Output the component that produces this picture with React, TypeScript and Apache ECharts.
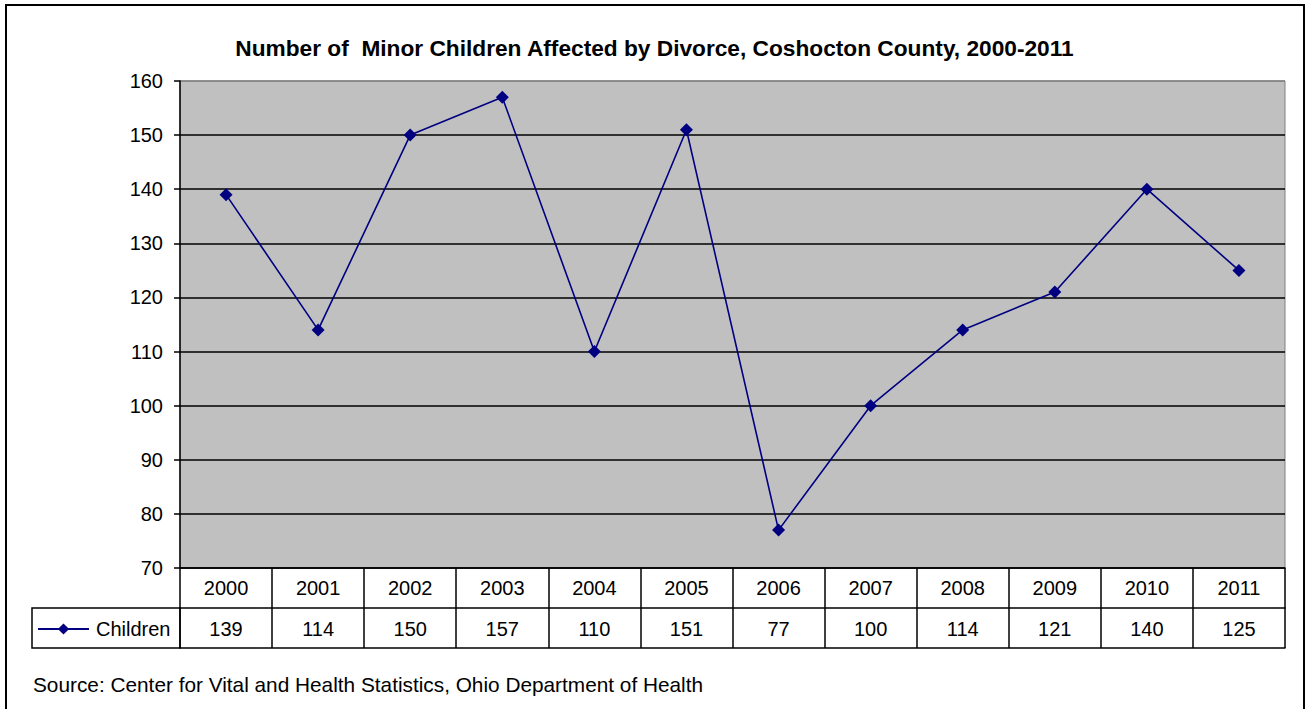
import React, { useEffect, useRef } from "react";
import * as echarts from "echarts";

const years = ["2000", "2001", "2002", "2003", "2004", "2005", "2006", "2007", "2008", "2009", "2010", "2011"];
const children = [139, 114, 150, 157, 110, 151, 77, 100, 114, 121, 140, 125];
const seriesName = "Children";
const titleText = "Number of  Minor Children Affected by Divorce, Coshocton County, 2000-2011";
const sourceText = "Source: Center for Vital and Health Statistics, Ohio Department of Health";

const FONT = "'Liberation Sans', Arial, sans-serif";

export default function App() {
  const ref = useRef<HTMLDivElement>(null);
  useEffect(() => {
    document.body.style.margin = "0";
    const chart = echarts.init(ref.current!, undefined, { renderer: "svg" });
    const gridLeft = 180;
    const gridTop = 81;
    const gridW = 1105;
    const gridH = 487;
    const splitColors = [];
    for (let i = 0; i < 9; i++) splitColors.push("#000");
    splitColors.push("#808080");
    chart.setOption({
      animation: false,
      backgroundColor: "#fff",
      textStyle: { fontFamily: FONT },
      title: {
        text: titleText,
        left: "center",
        top: 36,
        padding: 0,
        textStyle: { fontFamily: FONT, fontSize: 22.7, fontWeight: "bold", color: "#000" },
      },
      legend: {
        data: [seriesName],
        left: 37,
        top: 619,
        padding: 0,
        itemWidth: 51,
        itemHeight: 14,
        itemGap: 0,
        textStyle: { fontFamily: FONT, fontSize: 20, color: "#000", padding: [0, 0, 0, 2] },
      },
      grid: {
        left: gridLeft,
        top: gridTop,
        width: gridW,
        height: gridH,
        show: true,
        backgroundColor: "#c0c0c0",
        borderColor: "#808080",
        borderWidth: 1,
      },
      xAxis: [
        {
          type: "category",
          data: years,
          boundaryGap: true,
          position: "bottom",
          axisLine: { show: true, lineStyle: { color: "#000", width: 1.5 } },
          axisTick: { show: true, inside: false, length: 80, lineStyle: { color: "#000", width: 1.5 } },
          axisLabel: { fontFamily: FONT, fontSize: 20, color: "#000", margin: 10 },
          splitLine: { show: false },
        },
        {
          type: "category",
          data: children.map(String),
          boundaryGap: true,
          position: "bottom",
          offset: 40,
          axisLine: { show: true, lineStyle: { color: "#000", width: 1.5 } },
          axisTick: { show: false },
          axisLabel: { fontFamily: FONT, fontSize: 20, color: "#000", margin: 11 },
          splitLine: { show: false },
        },
        {
          type: "category",
          data: years,
          boundaryGap: true,
          position: "bottom",
          offset: 80,
          axisLine: { show: true, lineStyle: { color: "#000", width: 1.5 } },
          axisTick: { show: false },
          axisLabel: { show: false },
          splitLine: { show: false },
        },
      ],
      yAxis: {
        type: "value",
        min: 70,
        max: 160,
        interval: 10,
        axisLine: { show: true, lineStyle: { color: "#000", width: 1.5 } },
        axisTick: { show: true, inside: false, length: 6, lineStyle: { color: "#000", width: 1.5 } },
        axisLabel: { fontFamily: FONT, fontSize: 20, color: "#000", margin: 17 },
        splitLine: { show: true, lineStyle: { color: splitColors, width: 1.6 } },
      },
      series: [
        {
          name: seriesName,
          type: "line",
          xAxisIndex: 0,
          yAxisIndex: 0,
          data: children,
          symbol: "diamond",
          symbolSize: 13,
          itemStyle: { color: "#000080" },
          lineStyle: { color: "#000080", width: 1.6 },
        },
      ],
      graphic: [
        {
          type: "rect",
          shape: { x: 6, y: 5, width: 1298, height: 720 },
          style: { fill: "none", stroke: "#000", lineWidth: 2 },
          z: 100,
        },
        {
          type: "rect",
          shape: { x: 32, y: 608, width: 148, height: 40 },
          style: { fill: "none", stroke: "#000", lineWidth: 1.5 },
          z: 100,
        },
        {
          type: "text",
          x: 33,
          y: 684,
          style: {
            text: sourceText,
            fontFamily: FONT,
            fontSize: 20.8,
            fill: "#000",
            textVerticalAlign: "middle",
          },
        },
      ],
    });
    return () => chart.dispose();
  }, []);
  return <div ref={ref} style={{ width: 1309, height: 709 }} />;
}
